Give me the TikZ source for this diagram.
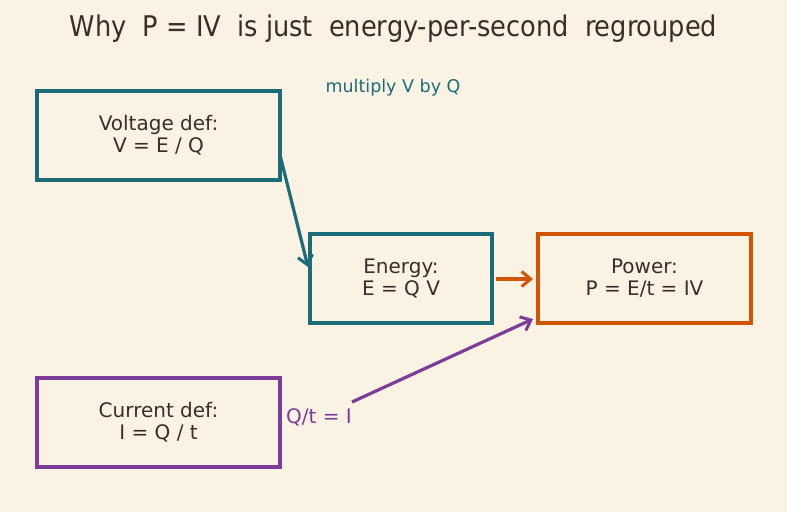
\documentclass[tikz,border=0pt]{standalone}
\usepackage{fontspec}
\setmainfont{DejaVu Sans}
\newfontfamily\titlefont{DejaVu Sans Condensed}
\usetikzlibrary{arrows.meta}
\definecolor{bg}{HTML}{FAF3E4}
\definecolor{tealc}{HTML}{1B6B78}
\definecolor{orangec}{HTML}{D35400}
\definecolor{purplec}{HTML}{7D3C98}
\definecolor{txt}{HTML}{3A2E26}
\tikzset{
  x=1pt,y=1pt,
  box/.style={draw, line width=4pt, minimum width=#1, minimum height=89pt, align=center, text=txt, font=\fontsize{20}{22}\selectfont, inner sep=0pt},
  conn/.style={line width=3.2pt, -{Straight Barb[length=9pt,width=15pt,line width=3pt]}},
}
\begin{document}
\begin{tikzpicture}
\fill[bg] (0,0) rectangle (787,512);
\useasboundingbox (0,0) rectangle (787,512);
\node[text=txt, font=\titlefont\fontsize{28.5}{34}\selectfont] (title) at (393.5,483) {Why~ P = IV~ is just~ energy-per-second~ regrouped};
\node[box=243pt, draw=tealc] (volt) at (158.5,376.5) {Voltage def:\\V = E / Q};
\node[box=182pt, draw=tealc] (energy) at (401,233.5) {Energy:\\E = Q V};
\node[box=213pt, draw=orangec] (power) at (644.5,233.5) {Power:\\P = E/t = IV};
\node[box=243pt, draw=purplec] (curr) at (158.5,89.5) {Current def:\\I = Q / t};
\node[text=tealc, font=\fontsize{17.5}{21}\selectfont] (mlab) at (393,424) {multiply V by Q};
\node[text=purplec, font=\fontsize{20}{24}\selectfont] (qlab) at (319,95) {Q/t = I};
\coordinate (ts) at (280,357);
\coordinate (te) at (308,245);
\coordinate (os) at (496,233);
\coordinate (oe) at (533,233);
\coordinate (ps) at (352,110);
\coordinate (pe) at (533,193);
\draw[conn, tealc] (ts) -- (te);
\draw[conn, orangec] (os) -- (oe);
\draw[conn, purplec] (ps) -- (pe);
\end{tikzpicture}
\end{document}
